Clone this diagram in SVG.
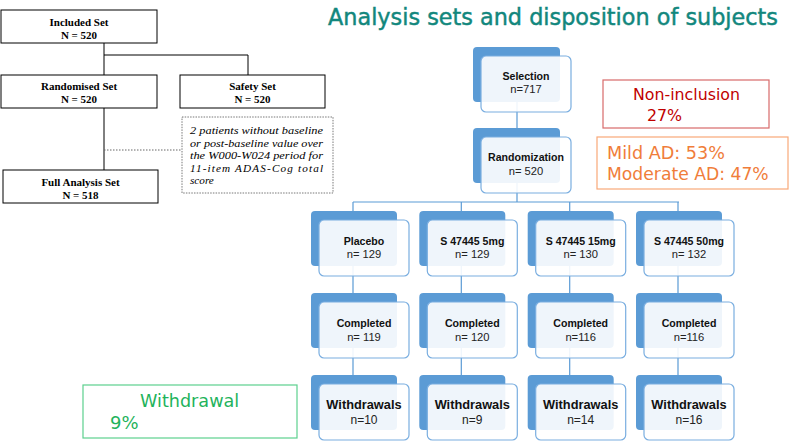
<svg xmlns="http://www.w3.org/2000/svg" width="792" height="441" viewBox="0 0 792 441">
<style>
.bk{fill:#5b9bd5}
.fr{fill:#ffffff;fill-opacity:0.9;stroke:#7aaee0;stroke-width:1.2}
.t1{font-family:"Liberation Sans",Arial,sans-serif;font-weight:bold;font-size:10.6px;fill:#111;text-anchor:middle}
.t2{font-family:"Liberation Sans",Arial,sans-serif;font-size:11.2px;fill:#222;text-anchor:middle}
.w1{font-family:"Liberation Sans",Arial,sans-serif;font-weight:bold;font-size:12.8px;fill:#111;text-anchor:middle}
.w2{font-family:"Liberation Sans",Arial,sans-serif;font-size:12px;fill:#222;text-anchor:middle}
.sb{fill:#fff;stroke:#000;stroke-width:1}
.st{font-family:"Liberation Serif","Times New Roman",serif;font-weight:bold;font-size:11px;fill:#000;text-anchor:middle}
.it{font-family:"Liberation Serif","Times New Roman",serif;font-style:italic;font-size:11.2px;fill:#000}
.cb{stroke:#5b9bd5;stroke-width:1.2;fill:none}
.ck{stroke:#000;stroke-width:1;fill:none}
.vd{font-family:"DejaVu Sans",Verdana,sans-serif}
</style>

<text x="328" y="25" class="vd" font-size="22.3" fill="#12877d" stroke="#12877d" stroke-width="0.45" textLength="450" lengthAdjust="spacingAndGlyphs">Analysis sets and disposition of subjects</text>

<g id="connectors">
  <path class="ck" d="M104 43V75M104 55H248V75M104 108V170"/>
  <path d="M104 150H182" stroke="#666" stroke-width="1" stroke-dasharray="1.5,1.5" fill="none"/>
  <path class="cb" d="M517 75V202M353 202H679M353 202V400M461.3 202V400M569.7 202V400M678 202V400"/>
</g>

<g id="included">
  <rect class="sb" x="1" y="10" width="156" height="33"/>
  <text class="st" x="79" y="26">Included Set</text>
  <text class="st" x="79" y="39">N = 520</text>
</g>
<g id="randomised">
  <rect class="sb" x="1" y="75" width="156" height="33"/>
  <text class="st" x="79" y="90">Randomised Set</text>
  <text class="st" x="79" y="103">N = 520</text>
</g>
<g id="safety">
  <rect class="sb" x="180" y="75" width="145" height="33"/>
  <text class="st" x="252.5" y="90">Safety Set</text>
  <text class="st" x="252.5" y="103">N = 520</text>
</g>
<g id="fas">
  <rect class="sb" x="3" y="170" width="155" height="33"/>
  <text class="st" x="80.5" y="186">Full Analysis Set</text>
  <text class="st" x="80.5" y="199">N = 518</text>
</g>
<g id="note">
  <rect x="182" y="117" width="151" height="76" fill="#fff" stroke="#555" stroke-width="0.8" stroke-dasharray="1.5,1.2"/>
  <text class="it" x="190" y="134" textLength="133" lengthAdjust="spacingAndGlyphs">2 patients without baseline</text>
  <text class="it" x="190" y="146.5" textLength="133" lengthAdjust="spacingAndGlyphs">or post-baseline value over</text>
  <text class="it" x="190" y="159" textLength="133" lengthAdjust="spacingAndGlyphs">the W000-W024 period for</text>
  <text class="it" x="190" y="171.5" textLength="133" lengthAdjust="spacing">11-item  ADAS-Cog  total</text>
  <text class="it" x="190" y="184">score</text>
</g>

<g id="selection">
  <rect class="bk" x="473" y="47" width="87" height="55" rx="4"/>
  <rect class="fr" x="481" y="56" width="90" height="56" rx="5"/>
  <text class="t1" x="526" y="80">Selection</text>
  <text class="t2" x="526" y="93">n=717</text>
</g>
<g id="randomization">
  <rect class="bk" x="473" y="128" width="87" height="55" rx="4"/>
  <rect class="fr" x="481" y="137" width="90" height="56" rx="5"/>
  <text class="t1" x="526" y="161">Randomization</text>
  <text class="t2" x="526" y="175">n= 520</text>
</g>

<g id="placebo">
  <rect class="bk" x="311" y="211" width="86" height="55" rx="4"/>
  <rect class="fr" x="319" y="220" width="90" height="56" rx="5"/>
  <text class="t1" x="364" y="245">Placebo</text>
  <text class="t2" x="364" y="258">n= 129</text>
</g>
<g id="dose5">
  <rect class="bk" x="419.3" y="211" width="86" height="55" rx="4"/>
  <rect class="fr" x="427.3" y="220" width="90" height="56" rx="5"/>
  <text class="t1" x="472.3" y="245">S 47445 5mg</text>
  <text class="t2" x="472.3" y="258">n= 129</text>
</g>
<g id="dose15">
  <rect class="bk" x="527.7" y="211" width="86" height="55" rx="4"/>
  <rect class="fr" x="535.7" y="220" width="90" height="56" rx="5"/>
  <text class="t1" x="580.7" y="245">S 47445 15mg</text>
  <text class="t2" x="580.7" y="258">n= 130</text>
</g>
<g id="dose50">
  <rect class="bk" x="636" y="211" width="86" height="55" rx="4"/>
  <rect class="fr" x="644" y="220" width="90" height="56" rx="5"/>
  <text class="t1" x="689" y="245">S 47445 50mg</text>
  <text class="t2" x="689" y="258">n= 132</text>
</g>

<g id="completed-placebo">
  <rect class="bk" x="311" y="293" width="86" height="55" rx="4"/>
  <rect class="fr" x="319" y="302" width="90" height="56" rx="5"/>
  <text class="t1" x="364" y="327">Completed</text>
  <text class="t2" x="364" y="341">n= 119</text>
</g>
<g id="completed-5">
  <rect class="bk" x="419.3" y="293" width="86" height="55" rx="4"/>
  <rect class="fr" x="427.3" y="302" width="90" height="56" rx="5"/>
  <text class="t1" x="472.3" y="327">Completed</text>
  <text class="t2" x="472.3" y="341">n= 120</text>
</g>
<g id="completed-15">
  <rect class="bk" x="527.7" y="293" width="86" height="55" rx="4"/>
  <rect class="fr" x="535.7" y="302" width="90" height="56" rx="5"/>
  <text class="t1" x="580.7" y="327">Completed</text>
  <text class="t2" x="580.7" y="341">n=116</text>
</g>
<g id="completed-50">
  <rect class="bk" x="636" y="293" width="86" height="55" rx="4"/>
  <rect class="fr" x="644" y="302" width="90" height="56" rx="5"/>
  <text class="t1" x="689" y="327">Completed</text>
  <text class="t2" x="689" y="341">n=116</text>
</g>

<g id="withdrawals-placebo">
  <rect class="bk" x="311" y="375" width="86" height="55" rx="4"/>
  <rect class="fr" x="319" y="384" width="90" height="56" rx="5"/>
  <text class="w1" x="364" y="409">Withdrawals</text>
  <text class="w2" x="364" y="424">n=10</text>
</g>
<g id="withdrawals-5">
  <rect class="bk" x="419.3" y="375" width="86" height="55" rx="4"/>
  <rect class="fr" x="427.3" y="384" width="90" height="56" rx="5"/>
  <text class="w1" x="472.3" y="409">Withdrawals</text>
  <text class="w2" x="472.3" y="424">n=9</text>
</g>
<g id="withdrawals-15">
  <rect class="bk" x="527.7" y="375" width="86" height="55" rx="4"/>
  <rect class="fr" x="535.7" y="384" width="90" height="56" rx="5"/>
  <text class="w1" x="580.7" y="409">Withdrawals</text>
  <text class="w2" x="580.7" y="424">n=14</text>
</g>
<g id="withdrawals-50">
  <rect class="bk" x="636" y="375" width="86" height="55" rx="4"/>
  <rect class="fr" x="644" y="384" width="90" height="56" rx="5"/>
  <text class="w1" x="689" y="409">Withdrawals</text>
  <text class="w2" x="689" y="424">n=16</text>
</g>

<g id="non-inclusion">
  <rect x="603" y="80" width="166" height="48" fill="#fff" stroke="#d86a6a" stroke-width="1.2"/>
  <text class="vd" x="633" y="100" font-size="15.8" fill="#c00000">Non-inclusion</text>
  <text class="vd" x="647" y="121" font-size="15.8" fill="#c00000">27%</text>
</g>
<g id="severity">
  <rect x="597" y="137" width="191" height="52" fill="#fff" stroke="#f8a878" stroke-width="1.2"/>
  <text class="vd" x="607" y="159" font-size="17.6" fill="#f07d3a">Mild AD: 53%</text>
  <text class="vd" x="607" y="180" font-size="17.2" fill="#f07d3a">Moderate AD: 47%</text>
</g>
<g id="withdrawal-rate">
  <rect x="83" y="385" width="214" height="53" fill="#fff" stroke="#5cd08e" stroke-width="1.2"/>
  <text class="vd" x="140" y="407" font-size="17.6" fill="#1fb35c">Withdrawal</text>
  <text class="vd" x="110" y="429" font-size="18" fill="#1fb35c">9%</text>
</g>
</svg>
